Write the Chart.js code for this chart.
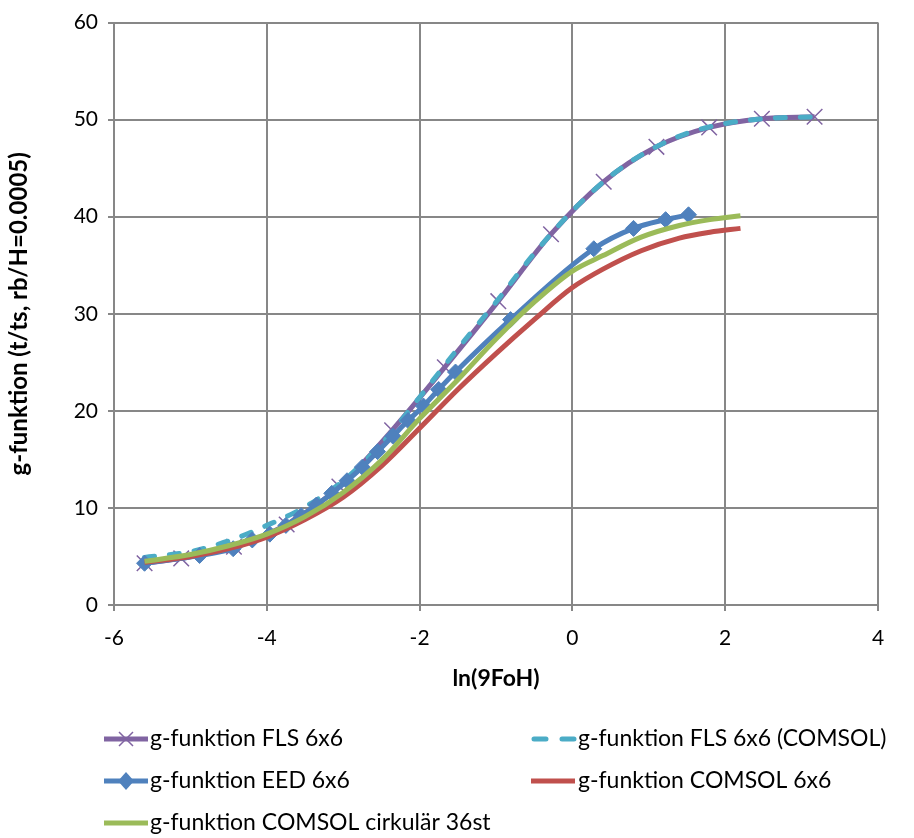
<!DOCTYPE html>
<html>
<head>
<meta charset="utf-8">
<script src="https://cdn.jsdelivr.net/npm/chart.js@4/dist/chart.umd.min.js"></script>
<style>
  html, body { margin: 0; padding: 0; background: #fff; }
</style>
</head>
<body>
<canvas id="chart" width="914" height="838"></canvas>
<script>
// g-funktion FLS 6x6 (purple, x markers)
const flsX = [-5.6, -5.12, -4.43, -3.74, -3.05, -2.36, -1.67, -0.97, -0.28, 0.41, 1.10, 1.79, 2.48, 3.17];
const flsY = [4.3, 4.8, 6.0, 8.3, 12.2, 18.0, 24.5, 31.3, 38.2, 43.6, 47.2, 49.2, 50.1, 50.3];

// g-funktion FLS 6x6 (COMSOL) (cyan dashed)
const flsComsolX = [-5.6, -5.0, -4.5, -4.0, -3.5, -3.0, -2.5, -2.0, -1.5, -1.0, -0.5, 0.0, 0.5, 1.0, 1.5, 2.0, 2.5, 3.17];
const flsComsolY = [4.9, 5.5, 6.6, 8.2, 10.1, 12.8, 16.6, 21.4, 26.4, 31.2, 36.2, 40.6, 44.2, 46.8, 48.6, 49.6, 50.1, 50.3];

// g-funktion EED 6x6 (blue diamonds)
const eedX = [-5.6, -4.88, -4.44, -4.19, -3.96, -3.75, -3.55, -3.35, -3.15, -2.95, -2.75, -2.55, -2.35, -2.15, -1.95, -1.75, -1.53, -0.81, 0.28, 0.80, 1.22, 1.52];
const eedY = [4.3, 5.1, 5.8, 6.7, 7.3, 8.2, 9.2, 10.3, 11.5, 12.8, 14.2, 15.8, 17.4, 19.0, 20.5, 22.2, 24.0, 29.4, 36.7, 38.8, 39.7, 40.2];

// g-funktion COMSOL 6x6 (red)
const comsolX = [-5.6, -5.0, -4.5, -4.0, -3.5, -3.0, -2.5, -2.0, -1.5, -1.0, -0.5, 0.0, 0.4, 0.9, 1.4, 1.8, 2.2];
const comsolY = [4.4, 5.0, 5.8, 7.0, 8.8, 11.1, 14.3, 18.2, 22.2, 25.9, 29.4, 32.7, 34.6, 36.5, 37.8, 38.4, 38.8];

// g-funktion COMSOL cirkulär 36st (green)
const cirkX = [-5.6, -5.0, -4.5, -4.0, -3.5, -3.0, -2.5, -2.0, -1.5, -1.0, -0.5, 0.0, 0.4, 0.9, 1.4, 1.8, 2.2];
const cirkY = [4.5, 5.2, 6.1, 7.3, 9.1, 11.6, 14.9, 19.2, 23.2, 27.4, 31.2, 34.4, 36.0, 37.9, 39.1, 39.7, 40.1];

const xTicks = [-6, -4, -2, 0, 2, 4];
const yTicks = [0, 10, 20, 30, 40, 50, 60];

const FONT = 'Lato, "Liberation Sans", sans-serif';
const GRID = '#878787';

const toPoints = (xs, ys) => xs.map((x, i) => ({ x: x, y: ys[i] }));

const series = [
    { label: 'g-funktion FLS 6x6', data: toPoints(flsX, flsY), color: '#8064a2', marker: 'crossRot', order: 5 },
    { label: 'g-funktion FLS 6x6 (COMSOL)', data: toPoints(flsComsolX, flsComsolY), color: '#4bacc6', dashed: true, order: 4 },
    { label: 'g-funktion EED 6x6', data: toPoints(eedX, eedY), color: '#4f81bd', marker: 'rectRot', order: 3 },
    { label: 'g-funktion COMSOL 6x6', data: toPoints(comsolX, comsolY), color: '#c0504d', order: 2 },
    { label: 'g-funktion COMSOL cirkulär 36st', data: toPoints(cirkX, cirkY), color: '#9bbb59', order: 1 }
];

// legend slots: [line start x, line end x, text x, row y]
const legendSlots = [
    [104, 148, 150, 739],
    [531, 575, 578, 739],
    [104, 148, 150, 781],
    [531, 575, 578, 781],
    [104, 148, 150, 823]
];

const customLegend = {
    id: 'customLegend',
    afterDraw(chart) {
        const ctx = chart.ctx;
        ctx.save();
        series.forEach((s, i) => {
            const [x0, x1, tx, y] = legendSlots[i];
            ctx.strokeStyle = s.color;
            ctx.lineWidth = 5;
            ctx.lineCap = s.dashed ? 'round' : 'butt';
            ctx.setLineDash(s.dashed ? [12, 16] : []);
            ctx.beginPath();
            ctx.moveTo(s.dashed ? x0 + 3 : x0, y);
            ctx.lineTo(x1, y);
            ctx.stroke();
            ctx.setLineDash([]);
            const mx = (x0 + x1) / 2;
            if (s.marker === 'crossRot') {
                ctx.lineWidth = 1.5;
                ctx.beginPath();
                ctx.moveTo(mx - 7, y - 7); ctx.lineTo(mx + 7, y + 7);
                ctx.moveTo(mx - 7, y + 7); ctx.lineTo(mx + 7, y - 7);
                ctx.stroke();
            } else if (s.marker === 'rectRot') {
                ctx.fillStyle = s.color;
                ctx.beginPath();
                ctx.moveTo(mx, y - 9); ctx.lineTo(mx + 8, y);
                ctx.lineTo(mx, y + 9); ctx.lineTo(mx - 8, y);
                ctx.closePath();
                ctx.fill();
            }
            ctx.fillStyle = '#000';
            ctx.font = '23px ' + FONT;
            ctx.textAlign = 'left';
            ctx.textBaseline = 'middle';
            ctx.fillText(s.label, tx, y);
        });
        ctx.restore();
    }
};

new Chart(document.getElementById('chart'), {
    type: 'scatter',
    data: {
        datasets: series.map(s => ({
            label: s.label,
            data: s.data,
            showLine: true,
            borderColor: s.color,
            backgroundColor: s.color,
            borderWidth: 5,
            borderDash: s.dashed ? [10, 15] : [],
            borderCapStyle: s.dashed ? 'round' : 'butt',
            cubicInterpolationMode: 'monotone',
            pointStyle: s.marker || 'circle',
            pointRadius: s.marker === 'crossRot' ? 11 : (s.marker === 'rectRot' ? 8 : 0),
            pointBorderWidth: s.marker === 'crossRot' ? 1.5 : 1,
            pointHoverRadius: 0,
            order: s.order
        }))
    },
    options: {
        responsive: false,
        animation: false,
        layout: { padding: { left: 0, right: 36, top: 22, bottom: 143 } },
        plugins: {
            legend: { display: false },
            tooltip: { enabled: false }
        },
        scales: {
            x: {
                type: 'linear',
                min: -6,
                max: 4,
                afterBuildTicks: scale => { scale.ticks = xTicks.map(v => ({ value: v })); },
                afterFit: scale => { scale.height = 90; },
                ticks: { color: '#000', font: { family: FONT, size: 21 }, padding: 15 },
                grid: { color: GRID, lineWidth: 2, tickLength: 6 },
                border: { color: GRID, width: 2 },
                title: {
                    display: true,
                    text: 'ln(9FoH)',
                    color: '#000',
                    font: { family: FONT, size: 23, weight: 'bold' },
                    padding: { top: 0, bottom: 3 }
                }
            },
            y: {
                type: 'linear',
                min: 0,
                max: 60,
                afterBuildTicks: scale => { scale.ticks = yTicks.map(v => ({ value: v })); },
                afterFit: scale => { scale.width = 114; },
                ticks: { color: '#000', font: { family: FONT, size: 21 }, padding: 10 },
                grid: { color: GRID, lineWidth: 2, tickLength: 6 },
                border: { color: GRID, width: 2 },
                title: {
                    display: true,
                    text: 'g-funktion (t/ts, rb/H=0.0005)',
                    color: '#000',
                    font: { family: FONT, size: 24, weight: 'bold' },
                    padding: { top: 5, bottom: 0 }
                }
            }
        }
    },
    plugins: [customLegend]
});
</script>
</body>
</html>
